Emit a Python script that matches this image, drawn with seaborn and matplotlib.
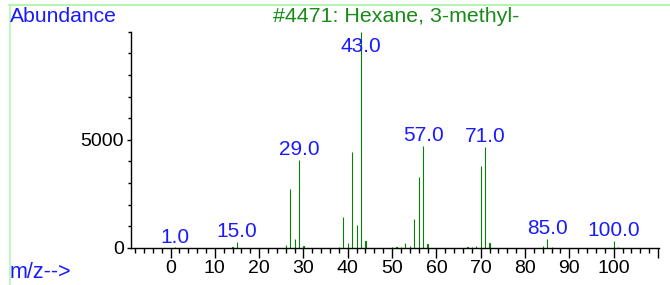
import pandas as pd
import seaborn as sns
import matplotlib.pyplot as plt
from matplotlib.lines import Line2D
from matplotlib.ticker import MultipleLocator, FixedLocator, FixedFormatter

# mass spectrum of 3-methylhexane
mz = [1, 14, 15, 26, 27, 28, 29, 30, 38, 39, 40, 41, 42, 43, 44,
      50, 51, 52, 53, 54, 55, 56, 57, 58, 67, 68, 69, 70, 71, 72,
      84, 85, 86, 100, 101]
abundance = [10, 20, 260, 130, 2740, 410, 4070, 70, 30, 1400, 210, 4430, 1070, 9999, 320,
             25, 45, 20, 210, 55, 1330, 3280, 4720, 180, 30, 20, 100, 3780, 4670, 220,
             80, 400, 20, 330, 20]
labelled = [1, 15, 29, 43, 57, 71, 85, 100]
title = "#4471: Hexane, 3-methyl-"

df = pd.DataFrame({"mz": mz, "abundance": abundance})

sns.set_style("ticks")
plt.rcParams["font.family"] = ["Liberation Sans", "DejaVu Sans"]

fig = plt.figure(figsize=(6.7, 2.85), dpi=100)
ax = fig.add_axes([0.195, 0.131, 0.789, 0.757])

# stick spectrum: very narrow bars, drawn mostly by their edge stroke
sns.barplot(data=df, x="mz", y="abundance", native_scale=True, width=0.04,
            color="#0a800a", saturation=1, linewidth=0.8, edgecolor="#0a800a", ax=ax)

ax.set_xlim(-9, 110.3)
ax.set_ylim(0, 10000)

# peak labels
for m in labelled:
    h = df.loc[df["mz"] == m, "abundance"].iloc[0]
    ax.annotate(f"{m:.1f}", (m, min(h, 8840)), xytext=(0, 3.5), textcoords="offset points",
                ha="center", va="baseline", color="#1a1aff", fontsize=15)

# axes styling
sns.despine(ax=ax)
for side in ["left", "bottom"]:
    ax.spines[side].set_linewidth(1)
    ax.spines[side].set_color("black")

xt = list(range(0, 111, 10))
ax.xaxis.set_major_locator(FixedLocator(xt))
ax.xaxis.set_major_formatter(FixedFormatter([str(v) if v <= 100 else "" for v in xt]))
ax.xaxis.set_minor_locator(MultipleLocator(2))
ax.yaxis.set_major_locator(FixedLocator([0, 5000]))
ax.yaxis.set_minor_locator(MultipleLocator(1000))
ax.tick_params(axis="x", which="major", length=7, width=1, pad=2, labelsize=14, colors="black")
ax.tick_params(axis="x", which="minor", length=3.5, width=1, colors="black")
ax.tick_params(axis="y", which="major", length=3, width=1, pad=2, labelsize=14, colors="black")
ax.tick_params(axis="y", which="minor", length=2, width=1, colors="black")
ax.set_xlabel("")
ax.set_ylabel("")

# header / footer text and the light green frame
fig.text(10 / 670, 1 - 17 / 285, "Abundance", color="#1a1aff", fontsize=15.2, va="center", ha="left")
fig.text(396 / 670, 1 - 17 / 285, title, color="#178a17", fontsize=15.4, va="center", ha="center")
fig.text(10 / 670, 1 - 272.5 / 285, "m/z-->", color="#1a1aff", fontsize=15.5, va="center", ha="left")
fig.add_artist(Line2D([9 / 670, 1], [1 - 4.5 / 285, 1 - 4.5 / 285], color="#b4f5b4", lw=1.5))
fig.add_artist(Line2D([9.5 / 670, 9.5 / 670], [0, 1 - 4.5 / 285], color="#b4f5b4", lw=1.2))

plt.savefig("out.png", dpi=100)
